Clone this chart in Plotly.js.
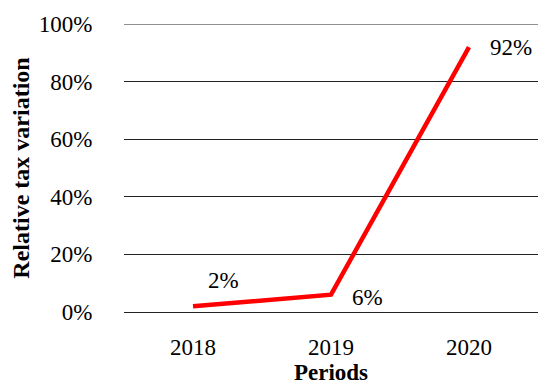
<!DOCTYPE html>
<html>
<head>
<meta charset="utf-8">
<script src="https://cdn.plot.ly/plotly-3.0.1.min.js"></script>
<style>html,body{margin:0;padding:0;background:#fff}#chart{width:550px;height:389px}</style>
</head>
<body>
<div id="chart"></div>
<script>
const periods = ["2018", "2019", "2020"];
const variation = [0.02, 0.06, 0.92];
const labels = ["2%", "6%", "92%"];
const yTicks = [0, 0.2, 0.4, 0.6, 0.8, 1];

const font = "Liberation Serif, Times New Roman, serif";
const labelShift = [[30, 26], [36, -3], [42, 0]];
const xs = periods.map(Number);

const trace = {
  x: xs, y: variation, type: "scatter", mode: "lines",
  line: {color: "#ff0000", width: 4.5}, cliponaxis: false, hoverinfo: "none"
};

const annotations = xs.map((p, i) => ({
  x: p, y: variation[i], text: labels[i], showarrow: false,
  xshift: labelShift[i][0], yshift: labelShift[i][1],
  font: {family: font, size: 23, color: "#000"}
}));

const layout = {
  width: 550, height: 389,
  margin: {l: 124, r: 12, t: 24, b: 77},
  paper_bgcolor: "#fff", plot_bgcolor: "#fff",
  showlegend: false,
  font: {family: font, size: 23, color: "#000"},
  xaxis: {
    type: "linear", range: [xs[0] - 0.5, xs[xs.length - 1] + 0.5],
    tickvals: xs, ticktext: periods,
    showgrid: false, zeroline: false, showline: false,
    ticks: "outside", ticklen: 14, tickcolor: "rgba(0,0,0,0)",
    tickfont: {family: font, size: 23},
    title: {text: "<b>Periods</b>", font: {family: font, size: 23}, standoff: 2}
  },
  yaxis: {
    range: [0, 1], tickvals: yTicks, tickformat: ".0%",
    showgrid: true, gridcolor: "#222", gridwidth: 1,
    zeroline: true, zerolinecolor: "#222", zerolinewidth: 1, showline: false,
    ticks: "outside", ticklen: 26, tickcolor: "rgba(0,0,0,0)",
    tickfont: {family: font, size: 23},
    title: {text: "<b>Relative tax variation</b>", font: {family: font, size: 24}, standoff: 2}
  },
  shapes: [{
    type: "line", xref: "paper", yref: "y", x0: 0, x1: 1,
    y0: yTicks[yTicks.length - 1], y1: yTicks[yTicks.length - 1],
    line: {color: "#222", width: 1}, layer: "below"
  }],
  annotations: annotations
};

Plotly.newPlot("chart", [trace], layout, {displayModeBar: false, staticPlot: true});
</script>
</body>
</html>
